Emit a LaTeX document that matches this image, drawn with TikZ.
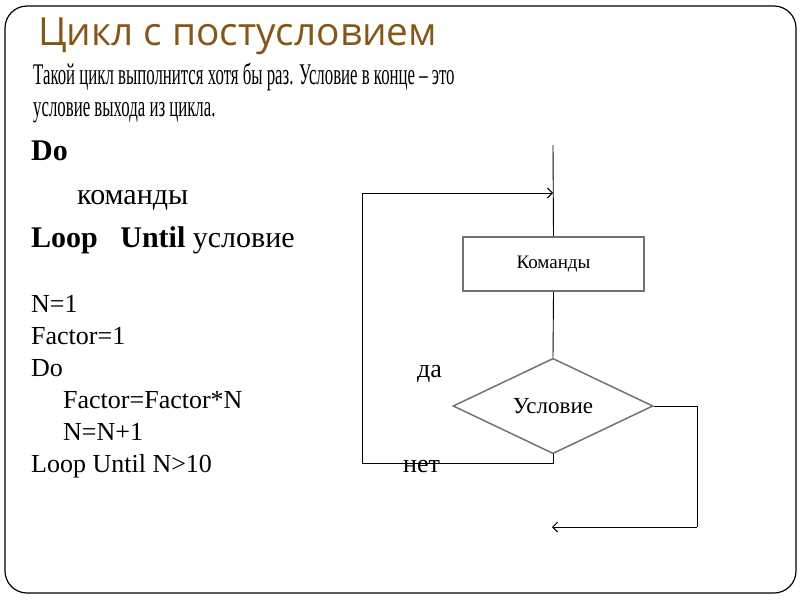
\documentclass[tikz,border=0pt]{standalone}
\usepackage{fontspec}
\setmainfont{Liberation Serif}
\newfontfamily\headfont{Open Sans}
\newfontfamily\narrowfont[FakeStretch=0.56]{Liberation Serif}
\usetikzlibrary{arrows.meta,positioning,shapes.geometric}
\definecolor{headbrown}{RGB}{134,86,24}
\definecolor{shapegray}{RGB}{115,115,110}
\tikzset{
    frame/.style={draw,line width=1.2pt,rounded corners=22pt},
    headline/.style={anchor=base west,inner sep=0pt,text=headbrown,font=\headfont\fontsize{38.8}{38.8}\selectfont},
    intro/.style={anchor=base west,inner sep=0pt,font=\narrowfont\fontsize{30}{30}\selectfont},
    syntax/.style={anchor=base west,inner sep=0pt,font=\fontsize{30}{30}\selectfont},
    code/.style={anchor=base west,inner sep=0pt,font=\fontsize{26}{26}\selectfont},
    label/.style={anchor=base west,inner sep=0pt,font=\fontsize{26}{26}\selectfont},
    block/.style={draw=shapegray,line width=1.8pt,minimum width=181pt,minimum height=54pt,inner sep=0pt,font=\fontsize{19}{19}\selectfont},
    cond/.style={diamond,draw=shapegray,line width=1.5pt,minimum width=200pt,minimum height=75pt,inner sep=0pt,font=\fontsize{23}{23}\selectfont},
    link/.style={line width=0.9pt},
    arrow/.style={link,-{Straight Barb[length=5pt,width=10pt]}}
}
\begin{document}
\begin{tikzpicture}[x=1pt,y=-1pt]
    \useasboundingbox (0,0) rectangle (800,600);
    \draw[frame] (5,6) rectangle (796,593);

    \node[headline] (head) at (38,45) {Цикл с постусловием};
    \node[intro] (intro1) at (33,84) {Такой цикл выполнится хотя бы раз. Условие в конце – это};
    \node[intro] (intro2) at (33,116) {условие выхода из цикла.};

    \node[syntax] (do) at (31,160) {\textbf{Do}};
    \node[syntax] (cmds) at (77,204) {команды};
    \node[syntax] (until) at (31,247) {\textbf{Loop\ \ \ Until} условие};

    \node[code] (l1) at (31,312) {N=1};
    \node[code] (l2) at (31,344) {Factor=1};
    \node[code] (l3) at (31,376) {Do};
    \node[code] (l4) at (63,408) {Factor=Factor*N};
    \node[code] (l5) at (63,440) {N=N+1};
    \node[code] (l6) at (31,472) {Loop Until N>10};

    \coordinate (start) at (553,145);
    \coordinate (entry) at (553,193);
    \node[block] (body) at (553.5,264) {Команды};
    \node[cond] (test) at (553,406) {Условие};
    \coordinate (nobend) at (553,463);
    \coordinate (noleft) at (362,463);
    \coordinate (noup) at (362,193);
    \coordinate (yesright) at (697,406);
    \coordinate (yesdown) at (697,527);
    \coordinate (exit) at (552,527);

    \node[label] (yes) at (417,377) {да};
    \node[label] (no) at (403,472) {нет};

    \draw[link] (start) -- (body.north);
    \draw[link] (body.south) -- (test.north);
    \draw[link] (test.south) -- (nobend) -- (noleft) -- (noup);
    \draw[arrow] (noup) -- (entry);
    \draw[link] (test.east) -- (yesright) -- (yesdown);
    \draw[arrow] (yesdown) -- (exit);
\end{tikzpicture}
\end{document}
